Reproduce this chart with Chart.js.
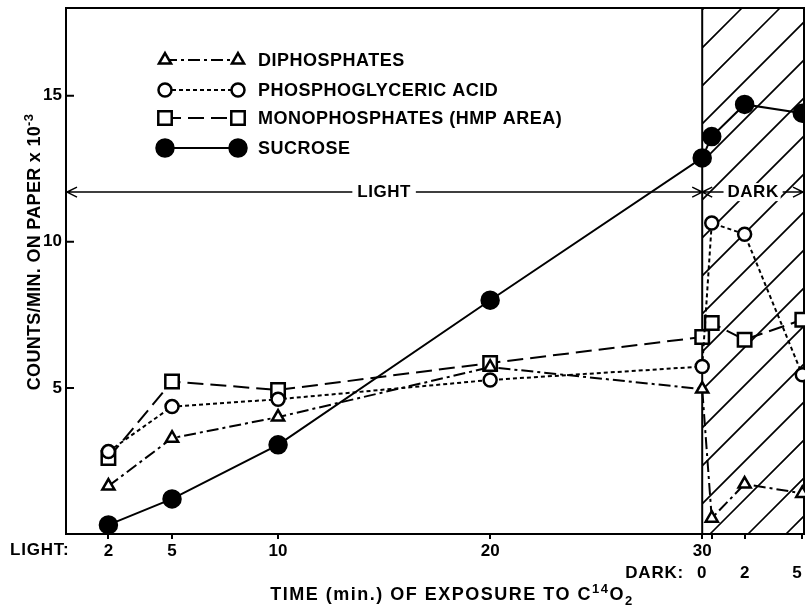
<!DOCTYPE html>
<html>
<head>
<meta charset="utf-8">
<script src="https://cdn.jsdelivr.net/npm/chart.js@4.4.1/dist/chart.umd.min.js"></script>
<style>
  html, body { margin: 0; padding: 0; background: #fff; }
  #chart { display: block; }
</style>
</head>
<body>
<canvas id="chart" width="805" height="615"></canvas>
<script>
// time axis: light minutes, then dark minutes after the light is switched off
const lightTimes = [2, 5, 10, 20, 30];
const darkTimes = [0, 2, 5];
const darkAxisPos = [30.45, 32.0, 34.72]; // where the dark minutes sit on the time axis
const yTicks = [5, 10, 15];

// counts/min x 10^-3 (light 2,5,10,20,30 then dark 0,2,5)
const diphosphates   = [1.64, 3.28, 4.0, 5.71, 4.96, 0.54, 1.71, 1.39];
const pga            = [2.82, 4.36, 4.61, 5.27, 5.73, 10.64, 10.26, 5.45];
const monophosphates = [2.6, 5.22, 4.93, 5.85, 6.74, 7.22, 6.65, 7.33];
const sucrose        = [0.31, 1.2, 3.05, 8.0, 12.87, 13.6, 14.7, 14.4];

const seriesNames = ["DIPHOSPHATES", "PHOSPHOGLYCERIC ACID", "MONOPHOSPHATES (HMP AREA)", "SUCROSE"];

const lightEnd = 30;     // light switched off here
const arrowLevel = 11.7; // height of the LIGHT / DARK arrows

const FONT = "'Liberation Sans', Arial, sans-serif";
const allPos = lightTimes.concat(darkAxisPos);

function points(values) {
  return values.map((v, i) => ({ x: allPos[i], y: v }));
}

const looks = [
  { dash: [12, 4, 3, 4], pointStyle: "triangle", radius: 7, bg: "#fff" },
  { dash: [4, 3], pointStyle: "circle", radius: 6.5, bg: "#fff" },
  { dash: [16, 7], pointStyle: "rect", radius: 9.5, bg: "#fff" },
  { dash: [], pointStyle: "circle", radius: 8.5, bg: "#000" }
];
const values = [diphosphates, pga, monophosphates, sucrose];

const datasets = values.map((vals, i) => ({
  label: seriesNames[i],
  data: points(vals),
  borderColor: "#000",
  borderWidth: 2,
  borderDash: looks[i].dash,
  pointStyle: looks[i].pointStyle,
  pointRadius: looks[i].radius,
  pointBorderWidth: 2.5,
  pointBorderColor: "#000",
  pointBackgroundColor: looks[i].bg,
  tension: 0,
  clip: false
}));

function drawMarker(ctx, look, x, y) {
  const r = look.radius;
  ctx.save();
  ctx.setLineDash([]);
  ctx.lineWidth = 2.5;
  ctx.strokeStyle = "#000";
  ctx.fillStyle = look.bg;
  ctx.beginPath();
  if (look.pointStyle === "circle") {
    ctx.arc(x, y, r, 0, Math.PI * 2);
  } else if (look.pointStyle === "rect") {
    const s = Math.SQRT1_2 * r;
    ctx.rect(x - s, y - s, 2 * s, 2 * s);
  } else {
    let a = 0;
    ctx.moveTo(x + Math.sin(a) * r, y - Math.cos(a) * r);
    a += 2 * Math.PI / 3;
    ctx.lineTo(x + Math.sin(a) * r, y - Math.cos(a) * r);
    a += 2 * Math.PI / 3;
    ctx.lineTo(x + Math.sin(a) * r, y - Math.cos(a) * r);
    ctx.closePath();
  }
  ctx.fill();
  ctx.stroke();
  ctx.restore();
}

function arrowHead(ctx, x, y, dir) {
  ctx.moveTo(x - dir * 10, y - 5);
  ctx.lineTo(x, y);
  ctx.lineTo(x - dir * 10, y + 5);
}

// draws pieces of text with super/subscripts, centred on cx
function richText(ctx, parts, cx, cy, spacing) {
  ctx.letterSpacing = (spacing || 0) + "px";
  let total = 0;
  parts.forEach(p => {
    ctx.font = "bold " + p.size + "px " + FONT;
    p.w = ctx.measureText(p.t).width;
    total += p.w;
  });
  let x = cx - total / 2;
  ctx.textAlign = "left";
  ctx.textBaseline = "middle";
  parts.forEach(p => {
    ctx.font = "bold " + p.size + "px " + FONT;
    ctx.fillText(p.t, x, cy + (p.dy || 0));
    x += p.w;
  });
  ctx.letterSpacing = "0px";
}

const decor = {
  id: "decor",
  beforeDatasetsDraw(chart) {
    const ctx = chart.ctx;
    const a = chart.chartArea;
    const xs = chart.scales.x, ys = chart.scales.y;
    const x0 = xs.getPixelForValue(lightEnd);
    const ay = ys.getPixelForValue(arrowLevel);

    ctx.save();
    // hatching over the dark period
    ctx.beginPath();
    ctx.rect(x0, a.top, a.right - x0, a.bottom - a.top);
    ctx.clip();
    ctx.lineWidth = 1.6;
    ctx.strokeStyle = "#000";
    ctx.beginPath();
    const h = a.bottom - a.top;
    for (let c = 1092 - 38 * 30; c < 1092 + 38 * 30; c += 38) {
      // line x + y = c
      ctx.moveTo(c - a.bottom, a.bottom);
      ctx.lineTo(c - a.bottom + h, a.top);
    }
    ctx.stroke();
    ctx.restore();

    ctx.save();
    ctx.strokeStyle = "#000";
    ctx.lineWidth = 2;
    ctx.strokeRect(a.left, a.top, a.right - a.left, a.bottom - a.top);
    ctx.beginPath();
    ctx.moveTo(x0, a.top);
    ctx.lineTo(x0, a.bottom);
    ctx.stroke();

    // y ticks point inwards
    ctx.beginPath();
    yTicks.forEach(v => {
      const y = ys.getPixelForValue(v);
      ctx.moveTo(a.left, y);
      ctx.lineTo(a.left + 8, y);
    });
    ctx.stroke();

    // LIGHT and DARK arrows
    ctx.font = "bold 17px " + FONT;
    ctx.letterSpacing = "0.5px";
    ctx.textAlign = "center";
    ctx.textBaseline = "middle";
    const lightMid = (a.left + x0) / 2;
    const darkMid = (x0 + a.right) / 2;
    const lw = ctx.measureText("LIGHT").width / 2 + 5;
    const dw = ctx.measureText("DARK").width / 2 + 4;
    ctx.lineWidth = 1.5;
    ctx.beginPath();
    ctx.moveTo(a.left, ay); ctx.lineTo(lightMid - lw, ay);
    ctx.moveTo(lightMid + lw, ay); ctx.lineTo(x0, ay);
    ctx.moveTo(x0, ay); ctx.lineTo(darkMid - dw, ay);
    ctx.moveTo(darkMid + dw, ay); ctx.lineTo(a.right, ay);
    arrowHead(ctx, a.left + 1, ay, -1);
    arrowHead(ctx, x0, ay, 1);
    arrowHead(ctx, x0, ay, -1);
    arrowHead(ctx, a.right - 1, ay, 1);
    ctx.stroke();
    ctx.fillStyle = "#fff";
    ctx.fillRect(darkMid - dw + 2, ay - 9, 2 * dw - 4, 18);
    ctx.fillStyle = "#000";
    ctx.fillText("LIGHT", lightMid, ay);
    ctx.fillText("DARK", darkMid, ay);
    ctx.letterSpacing = "0px";
    ctx.restore();
  },
  afterDraw(chart) {
    const ctx = chart.ctx;
    const xs = chart.scales.x;
    ctx.save();
    ctx.fillStyle = "#000";

    // legend
    const rows = [60, 90, 118, 148];
    looks.forEach((look, i) => {
      const y = rows[i];
      ctx.save();
      ctx.strokeStyle = "#000";
      ctx.lineWidth = 2;
      ctx.setLineDash(look.dash);
      ctx.beginPath();
      ctx.moveTo(165, y);
      ctx.lineTo(238, y);
      ctx.stroke();
      ctx.restore();
      drawMarker(ctx, look, 165, y);
      drawMarker(ctx, look, 238, y);
      ctx.font = "bold 18px " + FONT;
      ctx.letterSpacing = "0.5px";
      ctx.textAlign = "left";
      ctx.textBaseline = "middle";
      ctx.fillText(seriesNames[i], 258, y + 1);
      ctx.letterSpacing = "0px";
    });

    // axis row captions
    ctx.font = "bold 17px " + FONT;
    ctx.letterSpacing = "0.8px";
    ctx.textBaseline = "middle";
    ctx.textAlign = "left";
    ctx.fillText("LIGHT:", 10, 550);
    ctx.textAlign = "right";
    ctx.fillText("DARK:", 684, 573);
    ctx.letterSpacing = "0px";
    ctx.textAlign = "center";
    darkTimes.forEach((t, i) => {
      let x = xs.getPixelForValue(darkAxisPos[i]);
      if (i === 0) x -= 10;
      x = Math.min(x, chart.width - 8); // keep the last label on the page
      ctx.fillText(String(t), x, 573);
    });

    // x title
    richText(ctx, [
      { t: "TIME (min.) OF EXPOSURE TO C", size: 18 },
      { t: "14", size: 13, dy: -6 },
      { t: "O", size: 18 },
      { t: "2", size: 13, dy: 6 }
    ], 452, 595, 1.5);

    // y title
    ctx.save();
    ctx.translate(35, 252);
    ctx.rotate(-Math.PI / 2);
    richText(ctx, [
      { t: "COUNTS/MIN. ON PAPER x 10", size: 18 },
      { t: "-3", size: 13, dy: -6 }
    ], 0, 0, 0.3);
    ctx.restore();

    ctx.restore();
  }
};

new Chart(document.getElementById("chart"), {
  type: "line",
  data: { datasets: datasets },
  options: {
    responsive: false,
    animation: false,
    devicePixelRatio: 1,
    layout: { autoPadding: false, padding: { top: 8, right: 1, left: 0, bottom: 0 } },
    plugins: { legend: { display: false }, tooltip: { enabled: false } },
    scales: {
      x: {
        type: "linear",
        min: 0,
        max: 34.8,
        afterBuildTicks: s => { s.ticks = allPos.map(v => ({ value: v })); },
        afterFit: s => { s.height = 81; s.paddingLeft = 0; s.paddingRight = 0; },
        ticks: {
          callback: v => lightTimes.includes(v) ? String(v) : "",
          autoSkip: false,
          maxRotation: 0,
          padding: 2,
          color: "#000",
          font: { family: FONT, size: 17, weight: "bold" }
        },
        grid: { display: true, drawOnChartArea: false, drawTicks: true, tickLength: 5, color: "#000", lineWidth: 2 },
        border: { display: false }
      },
      y: {
        min: 0,
        max: 18,
        afterBuildTicks: s => { s.ticks = yTicks.map(v => ({ value: v })); },
        afterFit: s => { s.width = 66; s.paddingTop = 0; s.paddingBottom = 0; },
        ticks: {
          padding: 4,
          color: "#000",
          font: { family: FONT, size: 17, weight: "bold" }
        },
        grid: { display: false, drawTicks: false },
        border: { display: false }
      }
    }
  },
  plugins: [decor]
});
</script>
</body>
</html>
